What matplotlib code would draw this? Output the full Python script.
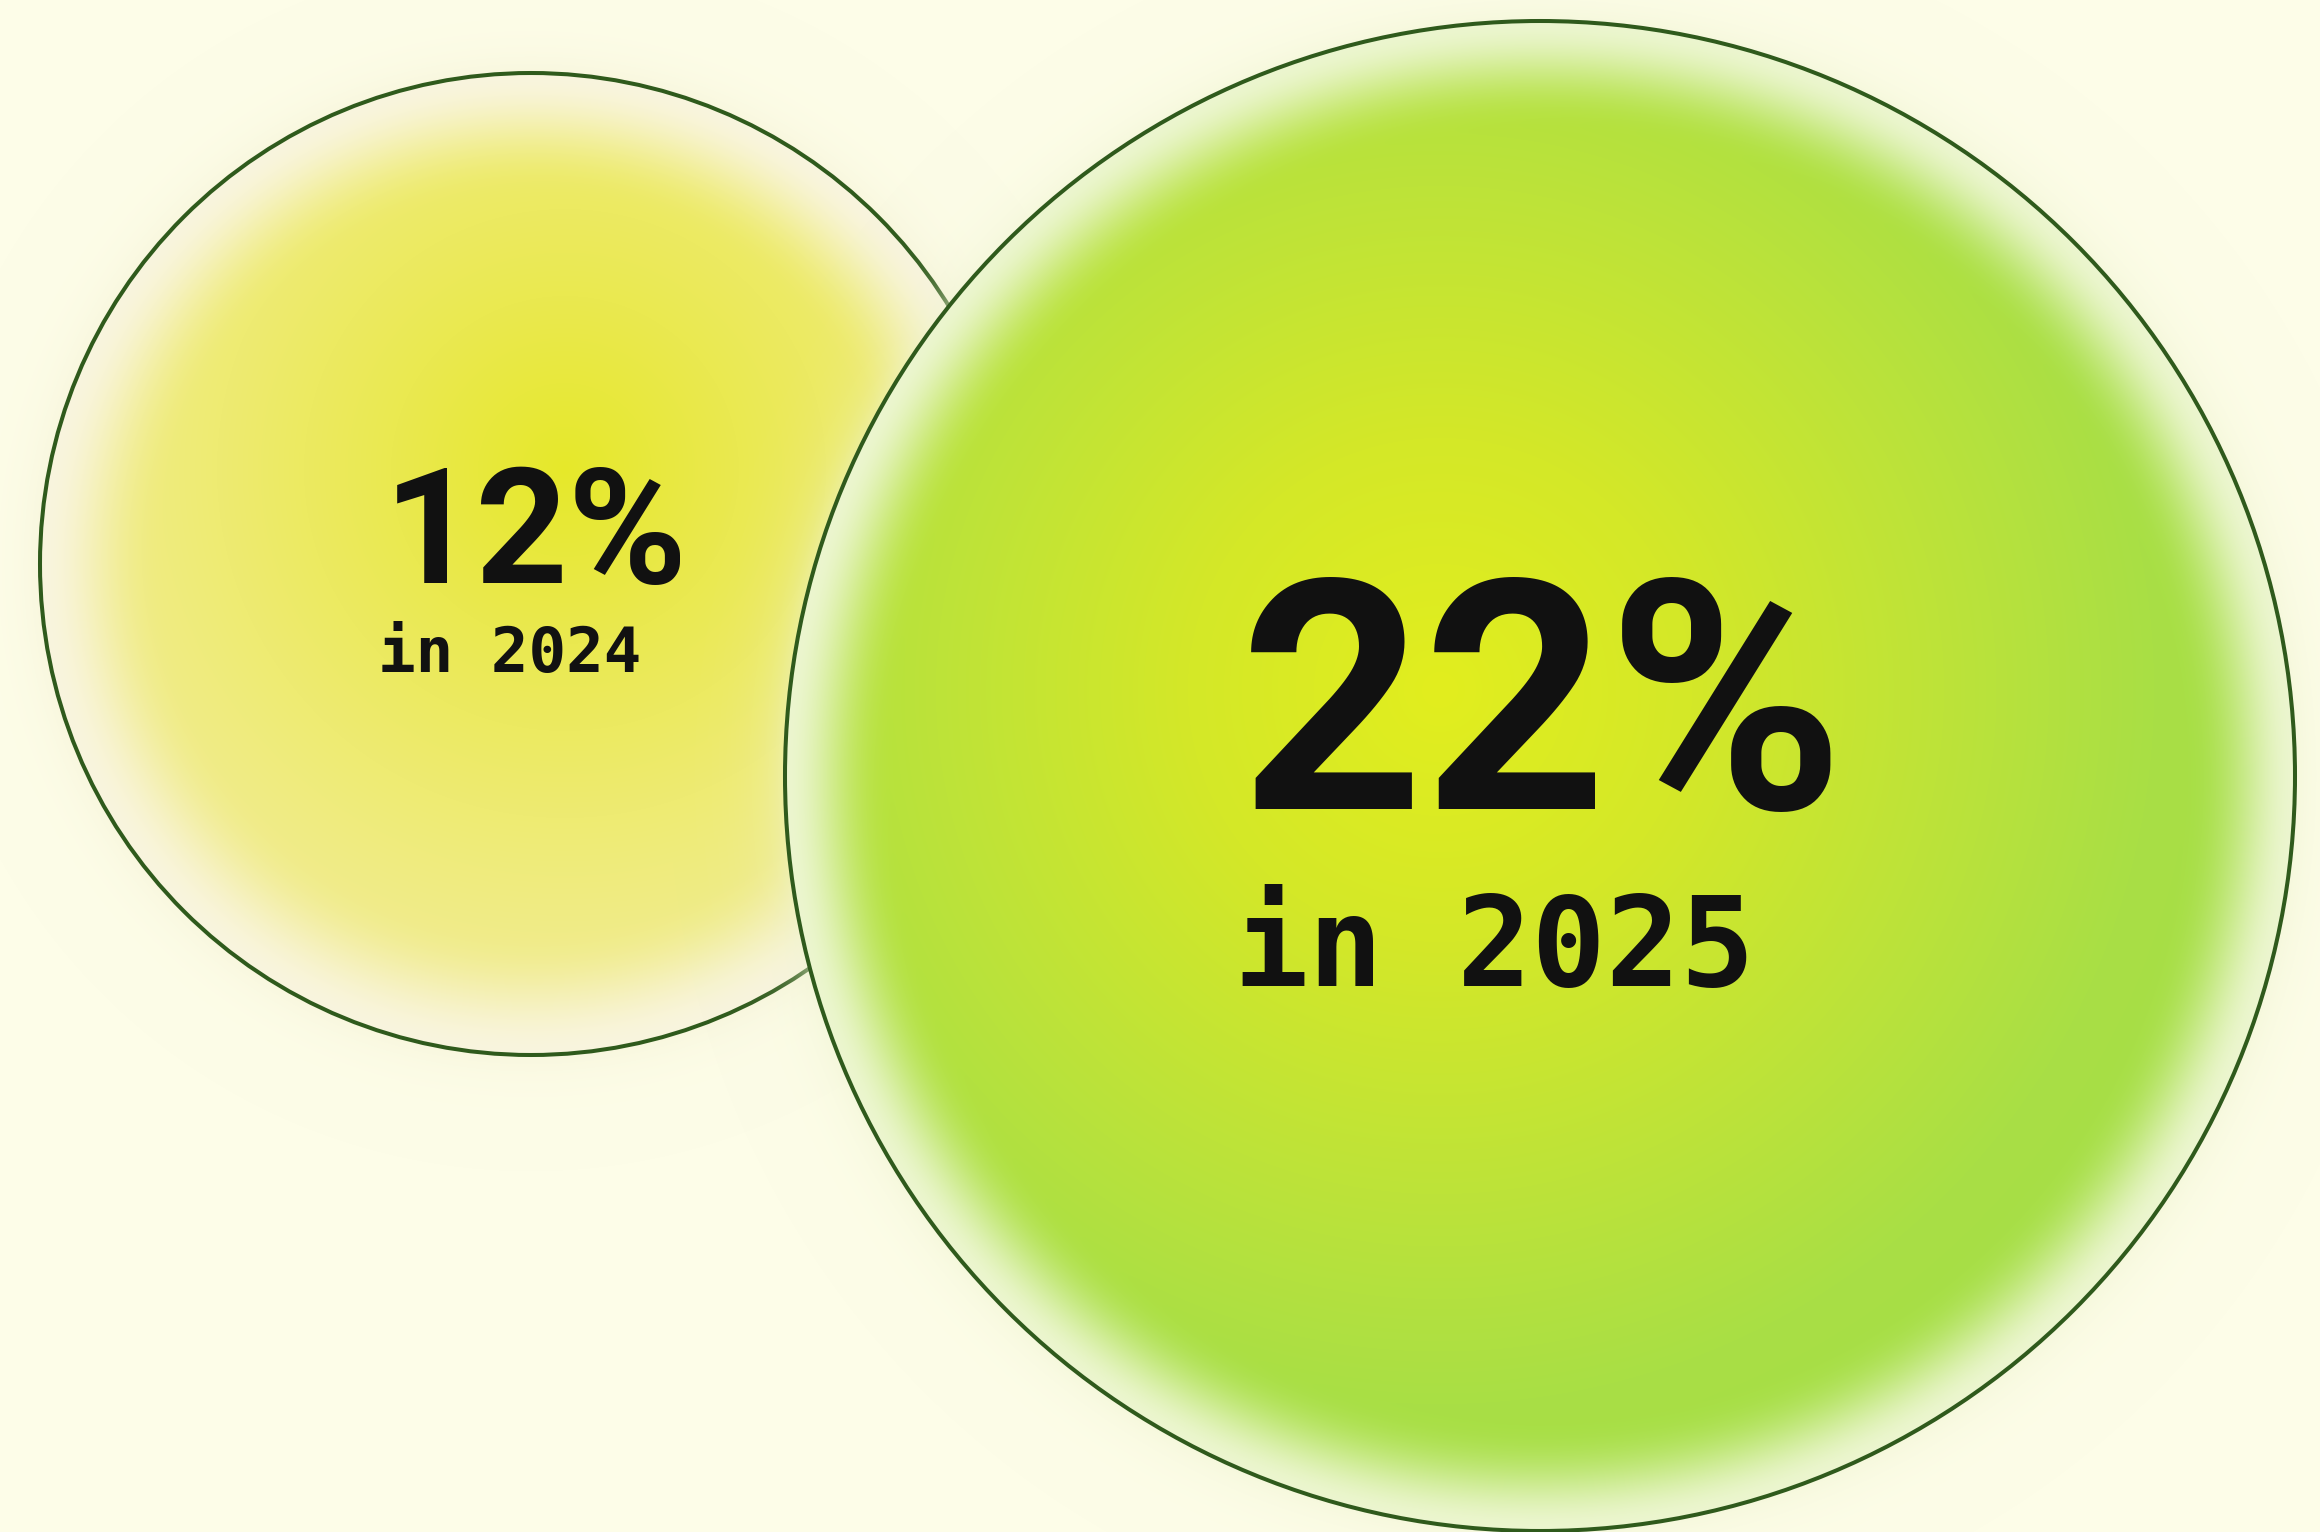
import numpy as np
import matplotlib
matplotlib.use("Agg")
import matplotlib.pyplot as plt
from matplotlib.patches import Circle
from matplotlib.colors import to_rgb

# --- data -----------------------------------------------------------------
years = [2024, 2025]
shares = [12, 22]          # percent
labels_main = [f"{v}%" for v in shares]
labels_sub = [f"in {y}" for y in years]

# --- layout (pixels) ------------------------------------------------------
W, H = 2320, 1532
centers = [(531, 564), (1540, 776)]
radii = [491, 755]
focus = [(565, 470), (1440, 690)]      # brightest spot of each gradient
focus_r = [580, 840]

BG = "#fdfde8"
OUTLINE = "#2f5a1c"

# radial colour ramps (position along ramp, colour)
ramps = [
    [(0.00, "#e6e82a"), (0.30, "#eae950"), (0.60, "#eeeb72"),
     (0.90, "#f1ec92"), (1.20, "#f3eea8")],
    [(0.00, "#e2ee1e"), (0.30, "#d4e828"), (0.60, "#bde339"),
     (0.85, "#a9df45"), (1.20, "#a2de4a")],
]
edge_col = ["#f9f5de", "#ecf6cf"]
edge_start = [0.74, 0.85]
glow_col = ["#f4f1d4", "#eef3d0"]

yy, xx = np.mgrid[0:H, 0:W] + 0.5


def ramp_color(t, stops):
    pos = [p for p, _ in stops]
    cols = np.array([to_rgb(c) for _, c in stops])
    return np.stack([np.interp(t, pos, cols[:, k]) for k in range(3)], axis=-1)


def smoothstep(a, b, x):
    u = np.clip((x - a) / (b - a), 0, 1)
    return u * u * (3 - 2 * u)


def bubble_rgba(i):
    cx, cy = centers[i]
    r = radii[i]
    fx, fy = focus[i]
    d = np.hypot(xx - cx, yy - cy) / r
    t = np.hypot(xx - fx, yy - fy) / focus_r[i]
    col = ramp_color(t, ramps[i])
    e = smoothstep(edge_start[i], 1.0, d)[..., None] ** 1.3
    col = col * (1 - e) + np.array(to_rgb(edge_col[i])) * e
    alpha = np.where(d <= 1.0, 1.0, 0.0)
    # soft halo just outside the rim
    outside = d > 1.0
    halo = 0.5 * np.exp(-((d - 1.0) * r) / 24.0)
    col = np.where(outside[..., None], np.array(to_rgb(glow_col[i])), col)
    alpha = np.where(outside, halo, alpha)
    return np.dstack([col, alpha])


fig = plt.figure(figsize=(W / 100, H / 100), dpi=100, facecolor=BG)
ax = fig.add_axes([0, 0, 1, 1])
ax.set_xlim(0, W)
ax.set_ylim(H, 0)
ax.set_facecolor(BG)
ax.axis("off")

for i in range(len(shares)):
    ax.imshow(bubble_rgba(i), extent=(0, W, H, 0), interpolation="bilinear",
              zorder=2 * i + 1)
    ax.add_patch(Circle(centers[i], radii[i], fill=False, ec=OUTLINE,
                        lw=2.9, zorder=2 * i + 2))

# --- labels ---------------------------------------------------------------
main_pos = [(384, 583), (1240, 809)]
main_size = [116, 231]
sub_pos = [(378, 672), (1234, 986)]
sub_size = [45, 89]

for i in range(len(shares)):
    ax.text(*main_pos[i], labels_main[i], fontsize=main_size[i],
            fontfamily="Roboto", fontweight="bold", color="#111111",
            ha="left", va="baseline", zorder=10)
    ax.text(*sub_pos[i], labels_sub[i], fontsize=sub_size[i],
            fontfamily="DejaVu Sans Mono", fontweight="bold", color="#111111",
            ha="left", va="baseline", zorder=10)

fig.savefig("out.png", dpi=100, facecolor=BG)
